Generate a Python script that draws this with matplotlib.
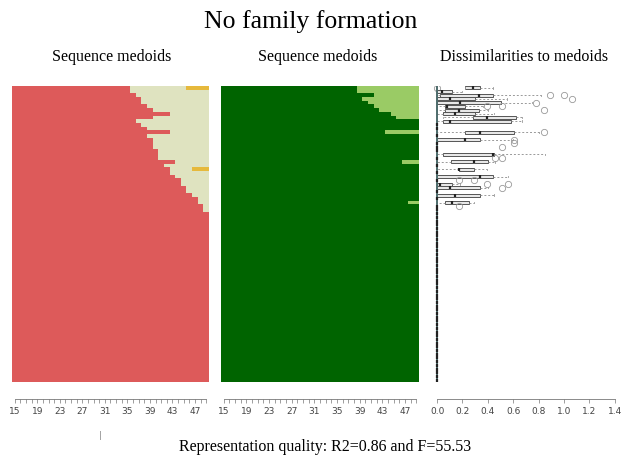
import numpy as np
import matplotlib
matplotlib.use("Agg")
import matplotlib.pyplot as plt
from matplotlib.colors import ListedColormap

# Step 1: data

n_rows = 80
ages = list(range(15, 50))
age_labels = [15, 19, 23, 27, 31, 35, 39, 43, 47]

# left panel: age at which each medoid leaves state 1 (red) for state 2 (beige); 50 = never
left_switch = [36, 36, 37, 38, 38, 39, 40, 43, 40, 37, 38, 39, 43, 39, 40, 40, 40,
               41, 41, 41, 44, 42, 43, 43, 44, 45, 45, 46, 46, 47, 48, 48, 49, 49]
left_third_rows = [0, 22]
left_third_start = [46, 47]

# middle panel: rows that move from dark green to light green, and the age they do it
mid_rows = [0, 1, 2, 3, 4, 5, 6, 7, 8, 12, 20, 31]
mid_switch = [39, 39, 42, 40, 41, 42, 43, 45, 46, 44, 47, 48]

# right panel: dissimilarity boxplots (only rows that are not all zero)
box_rows = [0, 1, 2, 3, 4, 5, 6, 7, 8, 9, 12, 14, 15, 16, 18, 19, 20, 22, 24, 25, 26, 27, 29, 31, 32]
box_q1 = [0.22, 0.0, 0.02, 0.0, 0.0, 0.06, 0.06, 0.05, 0.28, 0.05, 0.22, 0.0, 0.0, 0.0,
          0.05, 0.0, 0.11, 0.17, 0.0, 0.0, 0.0, 0.0, 0.0, 0.06, 0.0]
box_med = [0.28, 0.04, 0.33, 0.10, 0.18, 0.08, 0.17, 0.14, 0.39, 0.10, 0.34, 0.22, 0.0, 0.0,
           0.44, 0.0, 0.29, 0.17, 0.34, 0.0, 0.02, 0.10, 0.14, 0.12, 0.0]
box_q3 = [0.34, 0.12, 0.44, 0.30, 0.50, 0.22, 0.33, 0.30, 0.62, 0.58, 0.61, 0.34, 0.0, 0.0,
          0.45, 0.0, 0.40, 0.29, 0.44, 0.0, 0.12, 0.34, 0.34, 0.25, 0.0]
box_lo = [0.22, 0.0, 0.0, 0.0, 0.0, 0.0, 0.0, 0.0, 0.05, 0.0, 0.0, 0.0, 0.0, 0.0,
          0.0, 0.0, 0.0, 0.0, 0.0, 0.0, 0.0, 0.0, 0.0, 0.0, 0.0]
box_hi = [0.44, 0.20, 0.82, 0.55, 0.75, 0.36, 0.40, 0.45, 0.67, 0.67, 0.80, 0.60, 0.0, 0.0,
          0.85, 0.0, 0.46, 0.39, 0.56, 0.0, 0.18, 0.40, 0.45, 0.29, 0.0]
box_fliers = [[0.0], [], [0.89, 1.0], [1.06], [0.78], [0.39, 0.51], [0.84], [], [], [],
              [0.84], [0.61], [0.61], [0.51], [], [0.46, 0.51], [], [], [], [0.17, 0.29],
              [0.39, 0.56], [0.51], [], [], [0.17]]

# Step 2: build the state matrices

left_states = np.zeros((n_rows, len(ages)))
for i, s in enumerate(left_switch):
    left_states[i, np.array(ages) >= s] = 1
for r, s in zip(left_third_rows, left_third_start):
    left_states[r, np.array(ages) >= s] = 2

mid_states = np.zeros((n_rows, len(ages)))
for r, s in zip(mid_rows, mid_switch):
    mid_states[r, np.array(ages) >= s] = 1

# Step 3: figure

plt.rcParams["font.family"] = ["Liberation Serif", "DejaVu Serif"]
fig = plt.figure(figsize=(6.21, 4.59), dpi=100)

W, H = 621, 459


def px_axes(x0, x1, y0, y1):
    return fig.add_axes([x0 / W, 1 - y1 / H, (x1 - x0) / W, (y1 - y0) / H])


x_edges = np.arange(14.5, 50.5, 1)
y_edges = np.arange(-0.5, n_rows + 0.5, 1)


def style_axis(ax, lo, hi):
    for s in ["top", "left", "right"]:
        ax.spines[s].set_visible(False)
    ax.spines["bottom"].set_position(("outward", 12))
    ax.spines["bottom"].set_bounds(lo, hi)
    ax.spines["bottom"].set_color("#777777")
    ax.spines["bottom"].set_linewidth(0.6)
    ax.set_yticks([])
    ax.tick_params(axis="x", length=3, width=0.5, color="#777777",
                   labelsize=6.5, labelcolor="#444444", pad=3)


def seq_panel(ax, states, colors):
    ax.pcolormesh(x_edges, y_edges, states, cmap=ListedColormap(colors),
                  vmin=-0.5, vmax=len(colors) - 0.5, shading="flat")
    ax.set_xlim(14.5, 49.5)
    ax.set_ylim(n_rows - 0.5, -0.5)
    ax.set_xticks(ages)
    ax.set_xticklabels([str(a) if a in age_labels else "" for a in ages])
    style_axis(ax, 15, 49)
    for lab in ax.get_xticklabels():
        lab.set_family("DejaVu Sans")


ax1 = px_axes(12, 209, 86, 382)
seq_panel(ax1, left_states, ["#dd5a5a", "#dfe3c0", "#e6b93c"])

ax2 = px_axes(221, 419, 86, 382)
seq_panel(ax2, mid_states, ["#006400", "#9acb65"])

# right panel boxplots
ax3 = px_axes(432, 615, 86, 382)
stats = []
for i in range(len(box_rows)):
    stats.append(dict(q1=box_q1[i], med=box_med[i], q3=box_q3[i],
                      whislo=box_lo[i], whishi=box_hi[i], fliers=box_fliers[i]))
zero_rows = [r for r in range(n_rows) if r not in box_rows]
for r in zero_rows:
    stats.append(dict(q1=0.0, med=0.0, q3=0.0, whislo=0.0, whishi=0.0, fliers=[]))
positions = box_rows + zero_rows

ax3.bxp(stats, positions=positions, orientation="horizontal", widths=0.8,
        patch_artist=True, manage_ticks=False,
        boxprops=dict(facecolor="#e8e8e8", edgecolor="#555555", linewidth=0.7),
        medianprops=dict(color="#222222", linewidth=1.6),
        whiskerprops=dict(color="#999999", linewidth=0.7, linestyle=(0, (2, 2))),
        capprops=dict(color="#999999", linewidth=0.6),
        flierprops=dict(marker="o", markersize=4.5, markerfacecolor="none",
                        markeredgecolor="#999999", markeredgewidth=0.6))
ax3.plot([0, 0], [-0.5, n_rows - 0.5], color="#4d6b6b", linewidth=1.4)
ax3.set_xlim(-0.04, 1.402)
ax3.set_ylim(n_rows - 0.5, -0.5)
ticks = [0.0, 0.2, 0.4, 0.6, 0.8, 1.0, 1.2, 1.4]
ax3.set_xticks(ticks)
ax3.set_xticklabels(["%.1f" % t for t in ticks])
style_axis(ax3, 0, 1.4)
for lab in ax3.get_xticklabels():
    lab.set_family("DejaVu Sans")

# titles
fig.text(0.5, 1 - 22 / H, "No family formation", ha="center", va="center", fontsize=18.5)
fig.text(112 / W, 1 - 57 / H, "Sequence medoids", ha="center", va="center", fontsize=11.5)
fig.text(318 / W, 1 - 57 / H, "Sequence medoids", ha="center", va="center", fontsize=11.5)
fig.text(524 / W, 1 - 57 / H, "Dissimilarities to medoids", ha="center", va="center", fontsize=11.5)
fig.text(100 / W, 1 - 436 / H, "|", ha="center", va="center", fontsize=6, color="#888888",
         family="DejaVu Sans")
fig.text(325 / W, 1 - 447 / H, "Representation quality: R2=0.86 and F=55.53",
         ha="center", va="center", fontsize=11.5)

fig.savefig("out.png", dpi=100)
